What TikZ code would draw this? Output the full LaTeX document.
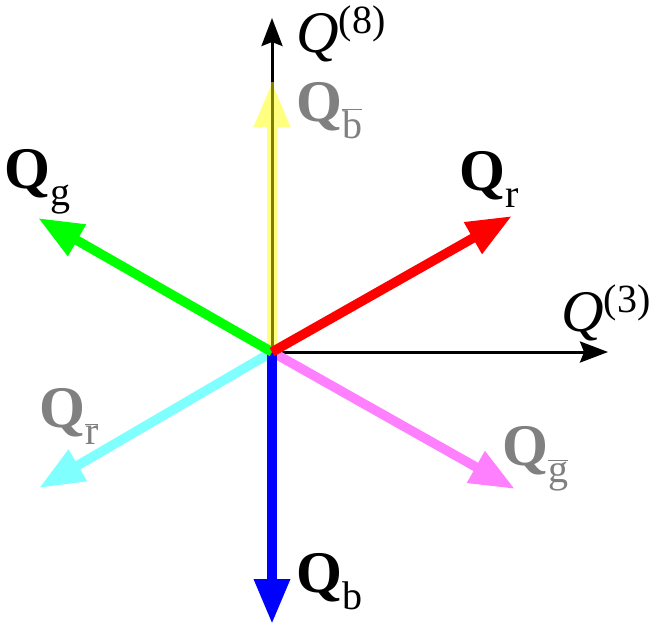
\documentclass[tikz,border=0pt]{standalone}
\usepackage{fontspec}
\setmainfont{Liberation Serif}
\usetikzlibrary{arrows.meta}
\definecolor{qred}{RGB}{255,0,0}
\definecolor{qgreen}{RGB}{0,255,0}
\definecolor{qblue}{RGB}{0,0,255}
\definecolor{qcyan}{RGB}{128,255,255}
\definecolor{qmagenta}{RGB}{255,128,255}
\definecolor{qyellow}{RGB}{255,255,128}
\definecolor{qolive}{RGB}{128,128,0}
\definecolor{qgray}{RGB}{128,128,128}
\newcommand\subtxt[1]{\raisebox{-17pt}{\fontsize{40}{40}\selectfont #1}}
\newcommand\suptxt[1]{\raisebox{19pt}{\fontsize{40}{40}\selectfont #1}}
\newcommand\barsub[1]{\raisebox{-17pt}{\fontsize{40}{40}\selectfont$\overline{\mbox{#1}}$}}
\begin{document}
\begin{tikzpicture}[x=1pt,y=-1pt,
  axis/.style={draw=black, line width=3pt, -{Stealth[length=28pt,width=21pt,inset=4pt]}},
  vec/.style={line width=9.5pt, -{Triangle[length=45pt,width=34pt]}},
  lbl/.style={anchor=base west, inner sep=0pt, font=\fontsize{59}{59}\selectfont}]
\useasboundingbox (0,0) rectangle (652,627);
\coordinate (O) at (272,352);
\coordinate (A3) at (608,352);
\coordinate (A8) at (272,18);
\coordinate (R) at (512,216);
\coordinate (G) at (38,218);
\coordinate (Yb) at (272,82);
\coordinate (B) at (272,624);
\coordinate (Rb) at (39,488);
\coordinate (Gb) at (515,489);
% axes
\draw[axis] (O) -- (A3);
\draw[axis] (O) -- (A8);
% anti-colour vectors
\draw[vec, draw=qyellow, fill=qyellow] (O) -- (Yb);
\draw[draw=qolive, line width=3pt] (O) -- (Yb);
\draw[vec, draw=qcyan, fill=qcyan] (O) -- (Rb);
\draw[vec, draw=qmagenta, fill=qmagenta] (O) -- (Gb);
% colour vectors
\draw[vec, draw=qblue, fill=qblue] (O) -- (B);
\draw[vec, draw=qgreen, fill=qgreen] (O) -- (G);
\draw[vec, draw=qred, fill=qred] (O) -- (R);
% labels
\node[lbl] (l8) at (296,52) {\textit{Q}\/\suptxt{(8)}};
\node[lbl] (l3) at (561,331) {\textit{Q}\/\suptxt{(3)}};
\node[lbl, text=qgray] (lyb) at (296,121) {\textbf{Q}\barsub{b}};
\node[lbl] (lg) at (4,188) {\textbf{Q}\subtxt{g}};
\node[lbl] (lr) at (459,190) {\textbf{Q}\subtxt{r}};
\node[lbl, text=qgray] (lrb) at (39,427) {\textbf{Q}\barsub{r}};
\node[lbl, text=qgray] (lgb) at (502,465) {\textbf{Q}\barsub{g}};
\node[lbl] (lb) at (296,592) {\textbf{Q}\subtxt{b}};
\end{tikzpicture}
\end{document}
